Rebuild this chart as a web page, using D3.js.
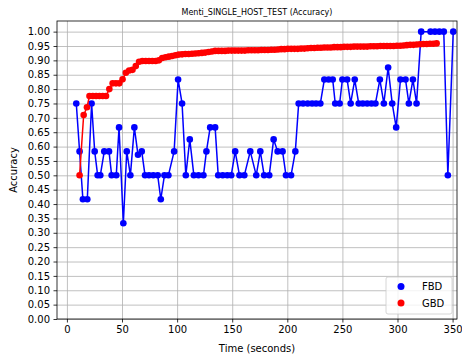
<!DOCTYPE html>
<html>
<head>
<meta charset="utf-8">
<script src="https://d3js.org/d3.v7.min.js"></script>
<style>
  body { margin: 0; background: #fff; }
  text { font-family: "DejaVu Sans", sans-serif; }
  .grid line { stroke: #b0b0b0; stroke-width: 0.8; }
  .grid path { display: none; }
</style>
</head>
<body>
<svg id="chart" width="462" height="358"></svg>
<script>
var chartTitle = "Menti_SINGLE_HOST_TEST (Accuracy)";
var xLabel = "Time (seconds)";
var yLabel = "Accuracy";
var seriesNames = ["FBD", "GBD"];

var xTicks = [0, 50, 100, 150, 200, 250, 300, 350];
var yTicks = [0, 0.05, 0.1, 0.15, 0.2, 0.25, 0.3, 0.35, 0.4, 0.45, 0.5,
  0.55, 0.6, 0.65, 0.7, 0.75, 0.8, 0.85, 0.9, 0.95, 1.0];

// FBD samples (time in seconds, accuracy)
var fbdTime = [8.5, 11.5, 14.5, 18.5, 22.4, 25.2, 27.9, 30.3, 33.9, 38.2,
  40.6, 44.8, 47.3, 51.2, 54.3, 57.6, 61.2, 64.5, 67.9, 70.9,
  74.5, 78.4, 82.4, 85.2, 88.5, 92.1, 97.3, 100.9, 104.5, 107.9,
  111.5, 115.2, 119.4, 123.9, 126.6, 130.0, 134.5, 137.3, 141.4, 145.5,
  149.1, 152.7, 156.6, 161.0, 166.4, 171.8, 175.5, 179.0, 183.6, 187.6,
  191.2, 195.7, 198.8, 203.4, 207.3, 210.3, 214.3, 218.5, 222.5, 226.1,
  230.0, 233.6, 237.5, 241.2, 243.5, 247.5, 250.0, 254.3, 257.5, 261.2,
  264.8, 268.5, 272.5, 276.4, 280.0, 284.0, 287.6, 291.5, 295.2, 298.8,
  302.7, 307.3, 310.3, 314.0, 317.3, 321.5, 330.0, 334.0, 338.0, 342.0,
  345.7, 350.6];
var fbdAcc = [0.75, 0.5833, 0.4167, 0.4167, 0.75, 0.5833, 0.5, 0.5, 0.5833, 0.5833,
  0.5, 0.5, 0.6667, 0.3333, 0.5833, 0.5, 0.6667, 0.5714, 0.5833, 0.5,
  0.5, 0.5, 0.5, 0.4167, 0.5, 0.5, 0.5833, 0.8333, 0.75, 0.5,
  0.625, 0.5, 0.5, 0.5, 0.5833, 0.6667, 0.6667, 0.5, 0.5, 0.5,
  0.5, 0.5833, 0.5, 0.5, 0.5833, 0.5, 0.5833, 0.5, 0.5, 0.625,
  0.5833, 0.5833, 0.5, 0.5, 0.5833, 0.75, 0.75, 0.75, 0.75, 0.75,
  0.75, 0.8333, 0.8333, 0.8333, 0.75, 0.75, 0.8333, 0.8333, 0.75, 0.8333,
  0.75, 0.75, 0.75, 0.75, 0.75, 0.8333, 0.75, 0.875, 0.75, 0.6667,
  0.8333, 0.8333, 0.75, 0.8333, 0.75, 1.0, 1.0, 1.0, 1.0, 1.0,
  0.5, 1.0];

// GBD samples
var gbdTime = [11.5, 15.2, 18.2, 20.5, 23.5, 26.5, 29.5, 32.5, 35.5, 38.5,
  41.5, 44.5, 47.5, 50.5, 53.5, 56.5, 59.5, 62.5, 65.5, 68.5,
  71.5, 74.5, 77.5, 80.5, 83.5, 86.5, 89.5, 92.5, 95.5, 98.5,
  101.5, 104.5, 107.5, 110.5, 113.5, 116.5, 119.5, 122.5, 125.5, 128.5,
  131.5, 134.5, 137.5, 140.5, 143.5, 146.5, 149.5, 152.5, 155.5, 158.5,
  161.5, 164.5, 167.5, 170.5, 173.5, 176.5, 179.5, 182.5, 185.5, 188.5,
  191.5, 194.5, 197.5, 200.5, 203.5, 206.5, 209.5, 212.5, 215.5, 218.5,
  221.5, 224.5, 227.5, 230.5, 233.5, 236.5, 239.5, 242.5, 245.5, 248.5,
  251.5, 254.5, 257.5, 260.5, 263.5, 266.5, 269.5, 272.5, 275.5, 278.5,
  281.5, 284.5, 287.5, 290.5, 293.5, 296.5, 299.5, 302.5, 305.5, 308.5,
  311.5, 314.5, 317.5, 320.5, 323.5, 326.5, 329.5, 332.5, 335.5];
var gbdAcc = [0.5, 0.71, 0.737, 0.776, 0.776, 0.776, 0.776, 0.776, 0.776, 0.80,
  0.82, 0.82, 0.82, 0.834, 0.857, 0.865, 0.867, 0.88, 0.895, 0.898,
  0.898, 0.898, 0.898, 0.898, 0.90, 0.908, 0.911, 0.913, 0.915, 0.918,
  0.92, 0.921, 0.922, 0.922, 0.923, 0.924, 0.925, 0.926, 0.927, 0.929,
  0.931, 0.933, 0.933, 0.933, 0.933, 0.934, 0.934, 0.934, 0.934, 0.934,
  0.934, 0.935, 0.935, 0.935, 0.935, 0.936, 0.936, 0.936, 0.937, 0.937,
  0.938, 0.939, 0.939, 0.94, 0.94, 0.94, 0.94, 0.941, 0.941, 0.942,
  0.943, 0.943, 0.944, 0.944, 0.945, 0.945, 0.945, 0.946, 0.946, 0.946,
  0.947, 0.947, 0.947, 0.948, 0.948, 0.948, 0.948, 0.948, 0.949, 0.949,
  0.949, 0.95, 0.95, 0.95, 0.95, 0.95, 0.951, 0.951, 0.952, 0.953,
  0.954, 0.954, 0.955, 0.956, 0.957, 0.957, 0.958, 0.958, 0.959];

var svg = d3.select("#chart"),
  margin = {top: 21, right: 5, bottom: 39, left: 57},
  width = +svg.attr("width") - margin.left - margin.right,
  height = +svg.attr("height") - margin.top - margin.bottom;
var g = svg.append("g").attr("transform", "translate(" + margin.left + "," + margin.top + ")");

var x = d3.scaleLinear()
  .domain([-9, 354])
  .range([0, width]);

var y = d3.scaleLinear()
  .domain([0, 1.037])
  .range([height, 0]);

var color = d3.scaleOrdinal()
  .domain(seriesNames)
  .range(["#0000ff", "#ff0000"]);

var data = [
  {name: "FBD", values: fbdTime.map(function (t, i) { return {t: t, v: fbdAcc[i]}; })},
  {name: "GBD", values: gbdTime.map(function (t, i) { return {t: t, v: gbdAcc[i]}; })}
];

// gridlines
g.append("g")
  .attr("class", "grid")
  .attr("transform", "translate(0," + height + ")")
  .call(d3.axisBottom(x).tickValues(xTicks).tickSize(-height).tickFormat(""));

g.append("g")
  .attr("class", "grid")
  .call(d3.axisLeft(y).tickValues(yTicks).tickSize(-width).tickFormat(""));

// clip marks to the plot area
svg.append("defs").append("clipPath")
  .attr("id", "clip")
  .append("rect")
  .attr("width", width)
  .attr("height", height);

var line = d3.line()
  .x(d => x(d.t))
  .y(d => y(d.v));

var series = g.append("g")
  .attr("clip-path", "url(#clip)")
  .selectAll(".series")
  .data(data)
  .enter().append("g")
  .attr("class", "series");

series.append("path")
  .attr("d", d => line(d.values))
  .attr("fill", "none")
  .attr("stroke", d => color(d.name))
  .attr("stroke-width", 1.5)
  .attr("stroke-linejoin", "round");

series.selectAll("circle")
  .data(d => d.values.map(function (p) { return {t: p.t, v: p.v, name: d.name}; }))
  .enter().append("circle")
  .attr("cx", d => x(d.t))
  .attr("cy", d => y(d.v))
  .attr("r", 3.3)
  .attr("fill", d => color(d.name));

// axes
var xAxis = g.append("g")
  .attr("transform", "translate(0," + height + ")")
  .call(d3.axisBottom(x).tickValues(xTicks).tickSize(3.5).tickPadding(3.5));

var yAxis = g.append("g")
  .call(d3.axisLeft(y).tickValues(yTicks).tickSize(3.5).tickPadding(3.5).tickFormat(d3.format(".2f")));

[xAxis, yAxis].forEach(function (a) {
  a.select(".domain").remove();
  a.selectAll("line").attr("stroke", "#000").attr("stroke-width", 0.8);
  a.selectAll("text").attr("fill", "#000").style("font-size", "10px");
});

// frame
g.append("rect")
  .attr("width", width)
  .attr("height", height)
  .attr("fill", "none")
  .attr("stroke", "#000")
  .attr("stroke-width", 0.8);

// title and axis labels
svg.append("text")
  .attr("x", margin.left + width / 2)
  .attr("y", 15)
  .attr("text-anchor", "middle")
  .style("font-size", "8px")
  .text(chartTitle);

svg.append("text")
  .attr("x", margin.left + width / 2)
  .attr("y", 352)
  .attr("text-anchor", "middle")
  .style("font-size", "10px")
  .text(xLabel);

svg.append("text")
  .attr("transform", "translate(17," + (margin.top + height / 2) + ") rotate(-90)")
  .attr("text-anchor", "middle")
  .style("font-size", "10px")
  .text(yLabel);

// legend
var legend = g.append("g")
  .attr("transform", "translate(" + (width - 71) + "," + (height - 42) + ")");

legend.append("rect")
  .attr("width", 66)
  .attr("height", 37)
  .attr("rx", 2)
  .attr("fill", "#fff")
  .attr("fill-opacity", 0.8)
  .attr("stroke", "#cccccc")
  .attr("stroke-width", 0.8);

var entry = legend.selectAll(".entry")
  .data(seriesNames)
  .enter().append("g")
  .attr("class", "entry")
  .attr("transform", (d, i) => "translate(0," + (9.5 + i * 16.5) + ")");

entry.append("circle")
  .attr("cx", 15)
  .attr("r", 3.5)
  .attr("fill", d => color(d));

entry.append("text")
  .attr("x", 36)
  .attr("dy", "0.35em")
  .style("font-size", "10px")
  .text(d => d);
</script>
</body>
</html>
